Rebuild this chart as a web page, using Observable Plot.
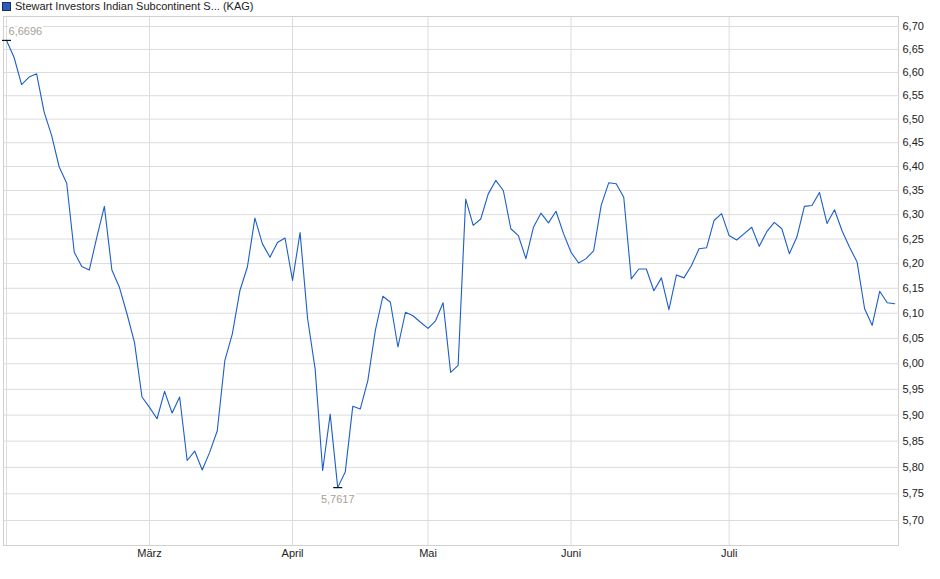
<!DOCTYPE html>
<html>
<head>
<meta charset="utf-8">
<script src="https://cdn.jsdelivr.net/npm/d3@7"></script>
<script src="https://cdn.jsdelivr.net/npm/@observablehq/plot@0.6"></script>
<style>
  html, body { margin: 0; padding: 0; background: #fff; }
  #wrap { position: relative; width: 940px; height: 579px; font-family: "Liberation Sans", Arial, sans-serif; }
  #title { position: absolute; left: 0; top: 0; font-size: 11px; line-height: 12px; color: #222; white-space: nowrap; z-index: 2; }
  #title .sq { display: inline-block; width: 7px; height: 7px; background: #2a5cb8; border: 1px solid #1a2f60; margin: 2px 4px 0 2px; vertical-align: top; }
  #chart { position: absolute; left: 0; top: 0; }
</style>
</head>
<body>
<div id="wrap">
  <div id="title"><span class="sq"></span>Stewart Investors Indian Subcontinent S... (KAG)</div>
  <div id="chart"></div>
</div>
<script>
const seriesName = "Stewart Investors Indian Subcontinent S... (KAG)";
const values = [
  6.6696, 6.633, 6.574, 6.590, 6.597, 6.515, 6.465, 6.399, 6.365, 6.223,
  6.194, 6.187, 6.254, 6.317, 6.187, 6.152, 6.099, 6.042, 5.935, 5.915,
  5.893, 5.946, 5.904, 5.935, 5.813, 5.831, 5.795, 5.829, 5.870, 6.006,
  6.059, 6.145, 6.193, 6.293, 6.240, 6.213, 6.243, 6.252, 6.166, 6.263,
  6.089, 5.990, 5.794, 5.902, 5.7617, 5.791, 5.917, 5.912, 5.967, 6.066,
  6.134, 6.122, 6.033, 6.102, 6.095, 6.082, 6.070, 6.085, 6.121, 5.983,
  5.997, 6.332, 6.278, 6.291, 6.343, 6.371, 6.350, 6.271, 6.257, 6.210,
  6.274, 6.303, 6.283, 6.307, 6.261, 6.223, 6.201, 6.210, 6.226, 6.319,
  6.366, 6.364, 6.336, 6.169, 6.189, 6.189, 6.145, 6.171, 6.107, 6.177,
  6.171, 6.196, 6.230, 6.232, 6.288, 6.302, 6.257, 6.248, 6.261, 6.274,
  6.235, 6.265, 6.284, 6.271, 6.220, 6.254, 6.317, 6.319, 6.346, 6.282,
  6.310, 6.267, 6.233, 6.203, 6.109, 6.076, 6.144, 6.121, 6.119
];
const monthIdx = [19, 38, 56, 75, 96];
const monthLabels = ["März", "April", "Mai", "Juni", "Juli"];
const yTicks = [5.70, 5.75, 5.80, 5.85, 5.90, 5.95, 6.00, 6.05, 6.10, 6.15, 6.20, 6.25, 6.30, 6.35, 6.40, 6.45, 6.50, 6.55, 6.60, 6.65, 6.70];
const yDomain = [5.6536, 6.722];

const data = values.map((v, i) => ({i, v}));
const iMax = d3.maxIndex(values), iMin = d3.minIndex(values);
const extremes = [
  {i: iMax, v: values[iMax], pos: "top"},
  {i: iMin, v: values[iMin], pos: "bottom"}
];
const fmt4 = v => v.toFixed(4).replace(".", ",");
const fmt2 = v => v.toFixed(2).replace(".", ",");

const chart = Plot.plot({
  width: 940,
  height: 579,
  marginLeft: 3,
  marginRight: 42,
  marginTop: 16,
  marginBottom: 34,
  style: {fontFamily: "Liberation Sans, Arial, sans-serif", fontSize: "11px", background: "transparent"},
  x: {type: "linear", domain: [-0.4, values.length - 0.5]},
  y: {type: "log", domain: yDomain},
  marks: [
    Plot.ruleY(yTicks, {stroke: "#dcdcdc", strokeWidth: 1}),
    Plot.ruleX([0, ...monthIdx], {stroke: "#dcdcdc", strokeWidth: 1}),
    Plot.frame({stroke: "#d0d0d0"}),
    Plot.axisY({anchor: "right", ticks: yTicks, tickFormat: fmt2, tickSize: 0, tickPadding: 4, fill: "#222", fontSize: 11, label: null}),
    Plot.axisX({ticks: monthIdx, tickFormat: d => monthLabels[monthIdx.indexOf(d)], tickSize: 0, tickPadding: 4, fill: "#222", fontSize: 11, label: null}),
    Plot.line(data, {x: "i", y: "v", stroke: "#1c5ec9", strokeWidth: 1.1}),
    Plot.link(extremes, {x1: d => d.i - 0.6, x2: d => d.i + 0.6, y1: "v", y2: "v", stroke: "#111", strokeWidth: 1.2}),
    Plot.text(extremes.filter(d => d.pos === "top"), {x: "i", y: "v", text: d => fmt4(d.v), textAnchor: "start", dx: 2, dy: -9, fill: "#a89f95", stroke: "white", strokeWidth: 4, fontSize: 11}),
    Plot.text(extremes.filter(d => d.pos === "bottom"), {x: "i", y: "v", text: d => fmt4(d.v), textAnchor: "middle", dy: 12, fill: "#a89f95", stroke: "white", strokeWidth: 4, fontSize: 11})
  ]
});
document.getElementById("chart").appendChild(chart);
</script>
</body>
</html>
